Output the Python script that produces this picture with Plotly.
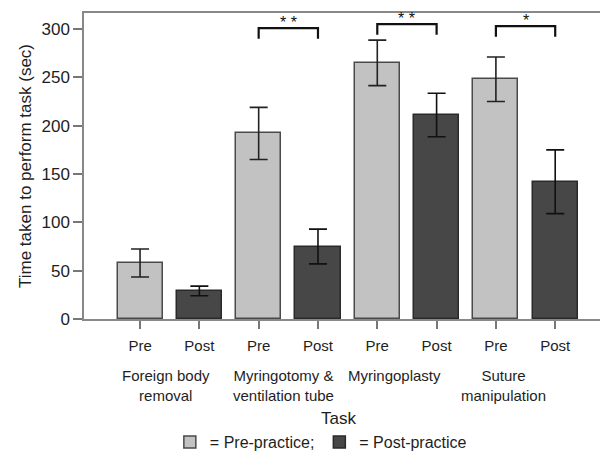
import plotly.graph_objects as go

tasks = ["Foreign body<br>removal", "Myringotomy &<br>ventilation tube", "Myringoplasty", "Suture<br>manipulation"]
pre_mean = [58, 192, 265, 248]
pre_err = [14.5, 27, 23.5, 23]
post_mean = [29, 75, 211, 142]
post_err = [5, 18, 22.5, 33]
significance = ["", "**", "**", "*"]
bracket_top = [0, 301, 305, 303]

FONT = "Liberation Sans, Arial, Helvetica, sans-serif"
PRE_COLOR = "#c2c2c2"
POST_COLOR = "#474747"
EDGE = "#4a4a4a"
TXT = "#1e1e1e"

# the page body has an 8px default margin, so the figure is 8px smaller
W, H = 600, 450

pre_x = [2 * i for i in range(len(tasks))]
post_x = [2 * i + 1 for i in range(len(tasks))]

fig = go.Figure()
fig.add_trace(go.Bar(
    x=pre_x, y=pre_mean, width=0.76, name="= Pre-practice;",
    marker=dict(color=PRE_COLOR, line=dict(color=EDGE, width=1.5)),
    error_y=dict(type="data", array=pre_err, color="#222222", thickness=1.6, width=9),
))
fig.add_trace(go.Bar(
    x=post_x, y=post_mean, width=0.76, name="= Post-practice",
    marker=dict(color=POST_COLOR, line=dict(color="#2a2a2a", width=1.5)),
    error_y=dict(type="data", array=post_err, color="#111111", thickness=1.6, width=9),
))

# significance brackets
for i, sig in enumerate(significance):
    if not sig:
        continue
    top = bracket_top[i]
    x0, x1 = pre_x[i], post_x[i]
    fig.add_shape(type="path",
                  path=f"M {x0},{top-11} L {x0},{top} L {x1},{top} L {x1},{top-11}",
                  xref="x", yref="y", line=dict(color="#111111", width=2.2))
    fig.add_annotation(x=(x0 + x1) / 2, y=top, text=sig.replace("*", "* ").strip(),
                       showarrow=False, yanchor="bottom", yshift=-5,
                       font=dict(family=FONT, size=16, color="#111111"))

# group labels
shifts = [-4, -5, -12, -22]
for i, t in enumerate(tasks):
    fig.add_annotation(x=2 * i + 0.5, xref="x", y=0, yref="paper", yshift=-46,
                       xshift=shifts[i], text=t, showarrow=False, yanchor="top",
                       align="center",
                       font=dict(family=FONT, size=15, color=TXT))

# axis title "Task"
fig.add_annotation(x=0.5, xref="paper", y=0, yref="paper", yshift=-99,
                   xshift=-8, text="Task", showarrow=False, yanchor="middle",
                   font=dict(family=FONT, size=17, color=TXT))

fig.update_layout(
    width=W, height=H,
    margin=dict(l=76, r=0, t=5, b=139, autoexpand=False),
    plot_bgcolor="white", paper_bgcolor="white",
    font=dict(family=FONT, color=TXT),
    bargap=0,
    showlegend=True,
    legend=dict(orientation="h", x=0.452, xanchor="center",
                yref="container", y=(H - 434) / H, yanchor="middle",
                font=dict(family=FONT, size=16, color=TXT),
                itemwidth=30, traceorder="normal"),
)
fig.update_xaxes(
    range=[-0.945, 7.89], tickmode="array", tickvals=pre_x + post_x,
    ticktext=["Pre"] * 4 + ["Post"] * 4,
    ticks="outside", ticklen=8, tickwidth=1.5, tickcolor="#777777",
    ticklabelstandoff=4,
    showline=True, linecolor="#888888", linewidth=1.5, mirror=True,
    showgrid=False, zeroline=False, automargin=False,
    tickfont=dict(family=FONT, size=15, color=TXT),
)
fig.update_yaxes(
    range=[0, 316.6], tickvals=[0, 50, 100, 150, 200, 250, 300],
    ticks="outside", ticklen=9, tickwidth=1.5, tickcolor="#777777",
    showline=True, linecolor="#888888", linewidth=1.5, mirror=False,
    showgrid=False, zeroline=False, automargin=False,
    tickfont=dict(family=FONT, size=17, color=TXT),
    title=dict(text="Time taken to perform task (sec)", standoff=6,
               font=dict(family=FONT, size=17, color=TXT)),
)

fig.write_html("out.html")
